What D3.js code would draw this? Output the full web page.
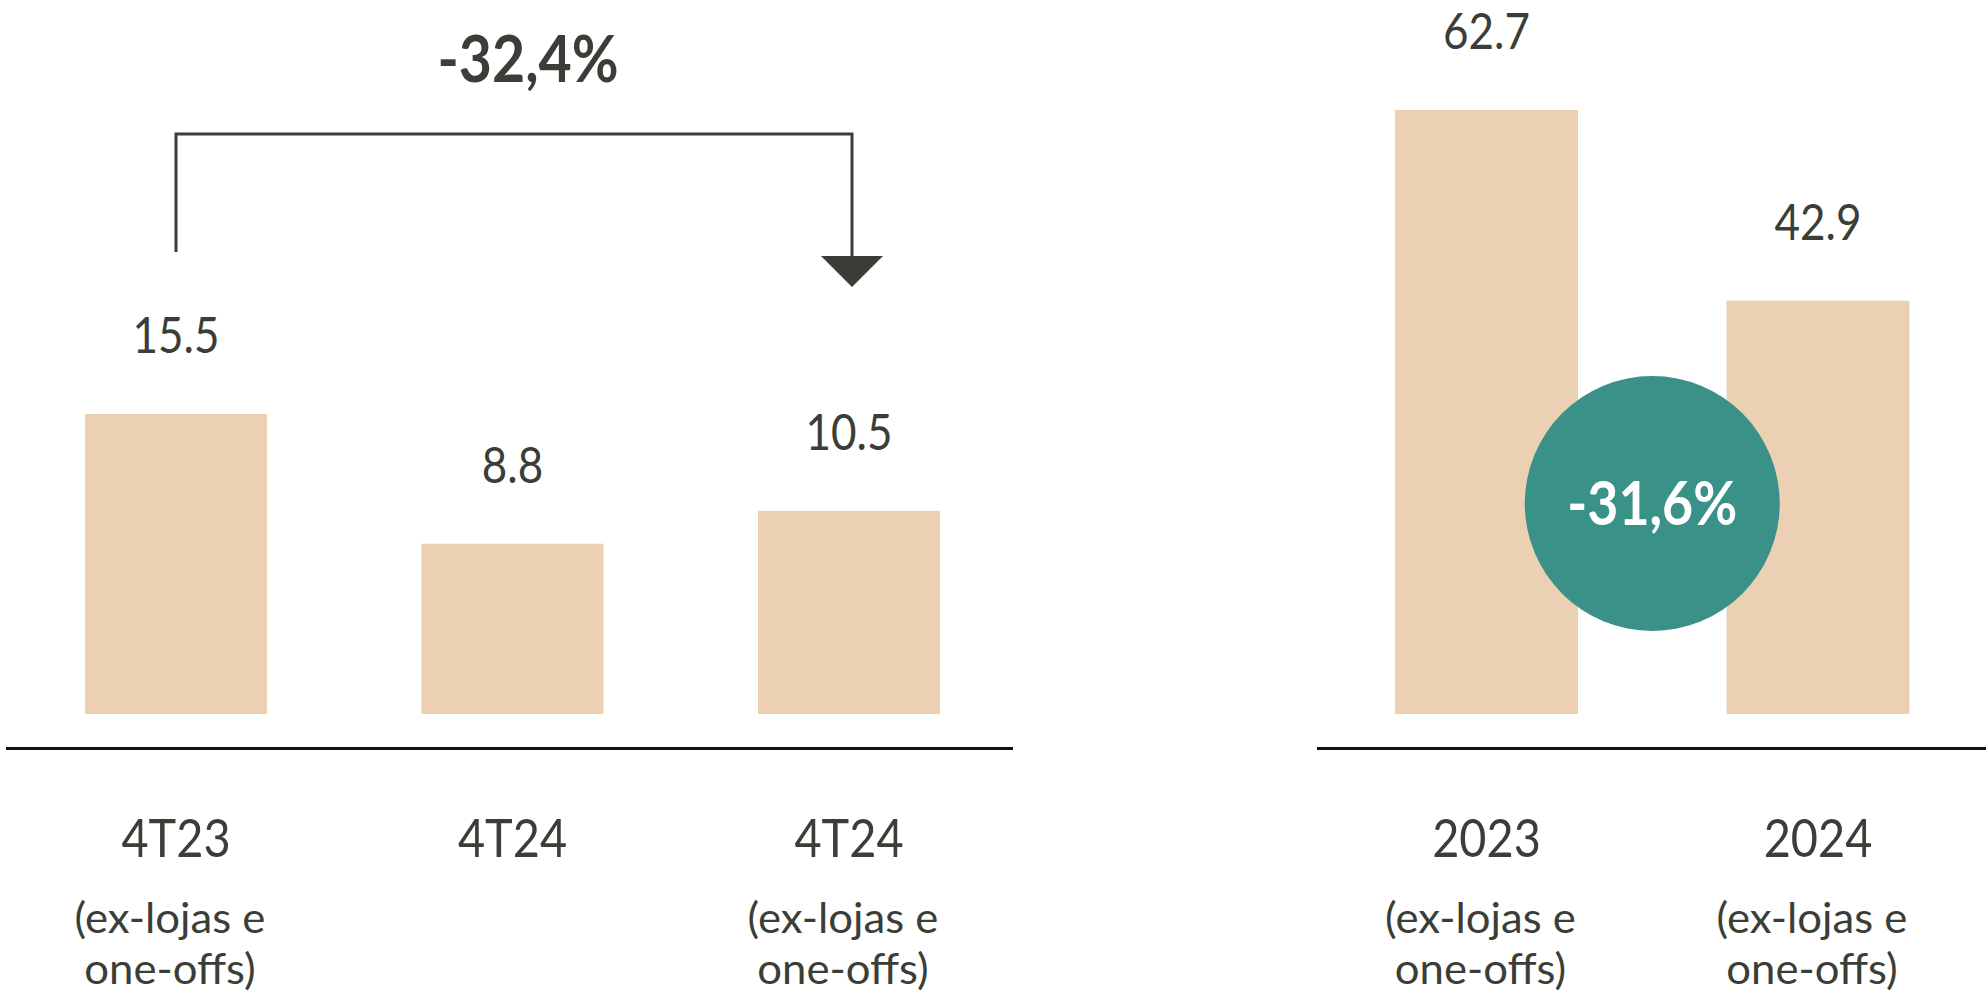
<!DOCTYPE html>
<html>
<head>
<meta charset="utf-8">
<script src="https://cdn.jsdelivr.net/npm/d3@7"></script>
<style>
  html, body { margin: 0; padding: 0; background: #ffffff; }
  svg { display: block; }
  text { font-family: Lato, "Open Sans", sans-serif; }
</style>
</head>
<body>
<svg id="chart" width="1986" height="995"></svg>
<script>
// Quarterly panel
const quarterLabels = ["4T23", "4T24", "4T24"];
const quarterNotes = [["(ex-lojas e", "one-offs)"], [], ["(ex-lojas e", "one-offs)"]];
const quarterValues = [15.5, 8.8, 10.5];
const quarterChange = "-32,4%";

// Annual panel
const yearLabels = ["2023", "2024"];
const yearNotes = [["(ex-lojas e", "one-offs)"], ["(ex-lojas e", "one-offs)"]];
const yearValues = [62.7, 42.9];
const yearChange = "-31,6%";

const svg = d3.select("#chart");
const BAR_FILL = "#ebd0b3";
const INK = "#3b3e37";
const TEAL = "#3a9188";
const SX = 0.88;          // horizontal squeeze for the narrow typeface look
const baseY = 714;        // bottom of the bars
const axisY = 748.5;      // rule under the bars

function label(g, x, y, str, size, weight, fill, sx = SX) {
  return g.append("text")
    .attr("transform", `translate(${x},${y}) scale(${sx},1)`)
    .attr("text-anchor", "middle")
    .attr("font-size", size)
    .attr("font-weight", weight)
    .attr("fill", fill)
    .text(str);
}

function panel(opts) {
  const g = svg.append("g");
  const x = d3.scalePoint().domain(d3.range(opts.values.length)).range(opts.xRange);
  const y = d3.scaleLinear().domain(opts.yDomain).range([baseY, opts.yTop]);
  const w = opts.barWidth;

  g.selectAll("rect.bar")
    .data(opts.values)
    .join("rect")
    .attr("class", "bar")
    .attr("x", (d, i) => x(i) - w / 2)
    .attr("y", d => y(d))
    .attr("width", w)
    .attr("height", d => y(0) - y(d))
    .attr("fill", BAR_FILL);

  opts.values.forEach((v, i) => {
    label(g, x(i), y(v) - 61, d3.format(".1f")(v), 50, 400, INK);
    label(g, x(i), 857, opts.labels[i], 52, 400, INK, 0.9);
    opts.notes[i].forEach((line, k) => {
      label(g, x(i) - 6, 933 + k * 51, line, 42, 400, INK, 1.04);
    });
  });

  g.append("line")
    .attr("x1", opts.axisRange[0]).attr("x2", opts.axisRange[1])
    .attr("y1", axisY).attr("y2", axisY)
    .attr("stroke", "#111111").attr("stroke-width", 3);

  return { g, x, y };
}

// Left: quarters
const left = panel({
  values: quarterValues, labels: quarterLabels, notes: quarterNotes,
  xRange: [176, 849], yDomain: [0, 20], yTop: 714 - 387, barWidth: 182,
  axisRange: [6, 1013]
});

// Bracket arrow from 4T23 to 4T24 (ex-lojas e one-offs)
{
  const g = left.g;
  const x0 = left.x(0), x1 = left.x(2) + 3;
  const topY = 134;
  g.append("path")
    .attr("d", `M${x0},252 V${topY} H${x1} V258`)
    .attr("fill", "none")
    .attr("stroke", INK)
    .attr("stroke-width", 3);
  g.append("path")
    .attr("d", `M${x1 - 31},256 L${x1 + 31},256 L${x1},287 Z`)
    .attr("fill", INK);
  label(g, (x0 + x1) / 2 + 14, 82, quarterChange, 65, 700, INK);
}

// Right: years
const right = panel({
  values: yearValues, labels: yearLabels, notes: yearNotes,
  xRange: [1486.5, 1818], yDomain: [0, 70], yTop: 714 - 674.3, barWidth: 183,
  axisRange: [1317, 1986]
});

// Change badge between the two annual bars
{
  const g = right.g;
  const cx = (right.x(0) + right.x(1)) / 2;
  const cy = 503.5;
  g.append("circle")
    .attr("cx", cx).attr("cy", cy).attr("r", 127.5)
    .attr("fill", TEAL);
  label(g, cx, cy + 21, yearChange, 61, 700, "#ffffff");
}
</script>
</body>
</html>
